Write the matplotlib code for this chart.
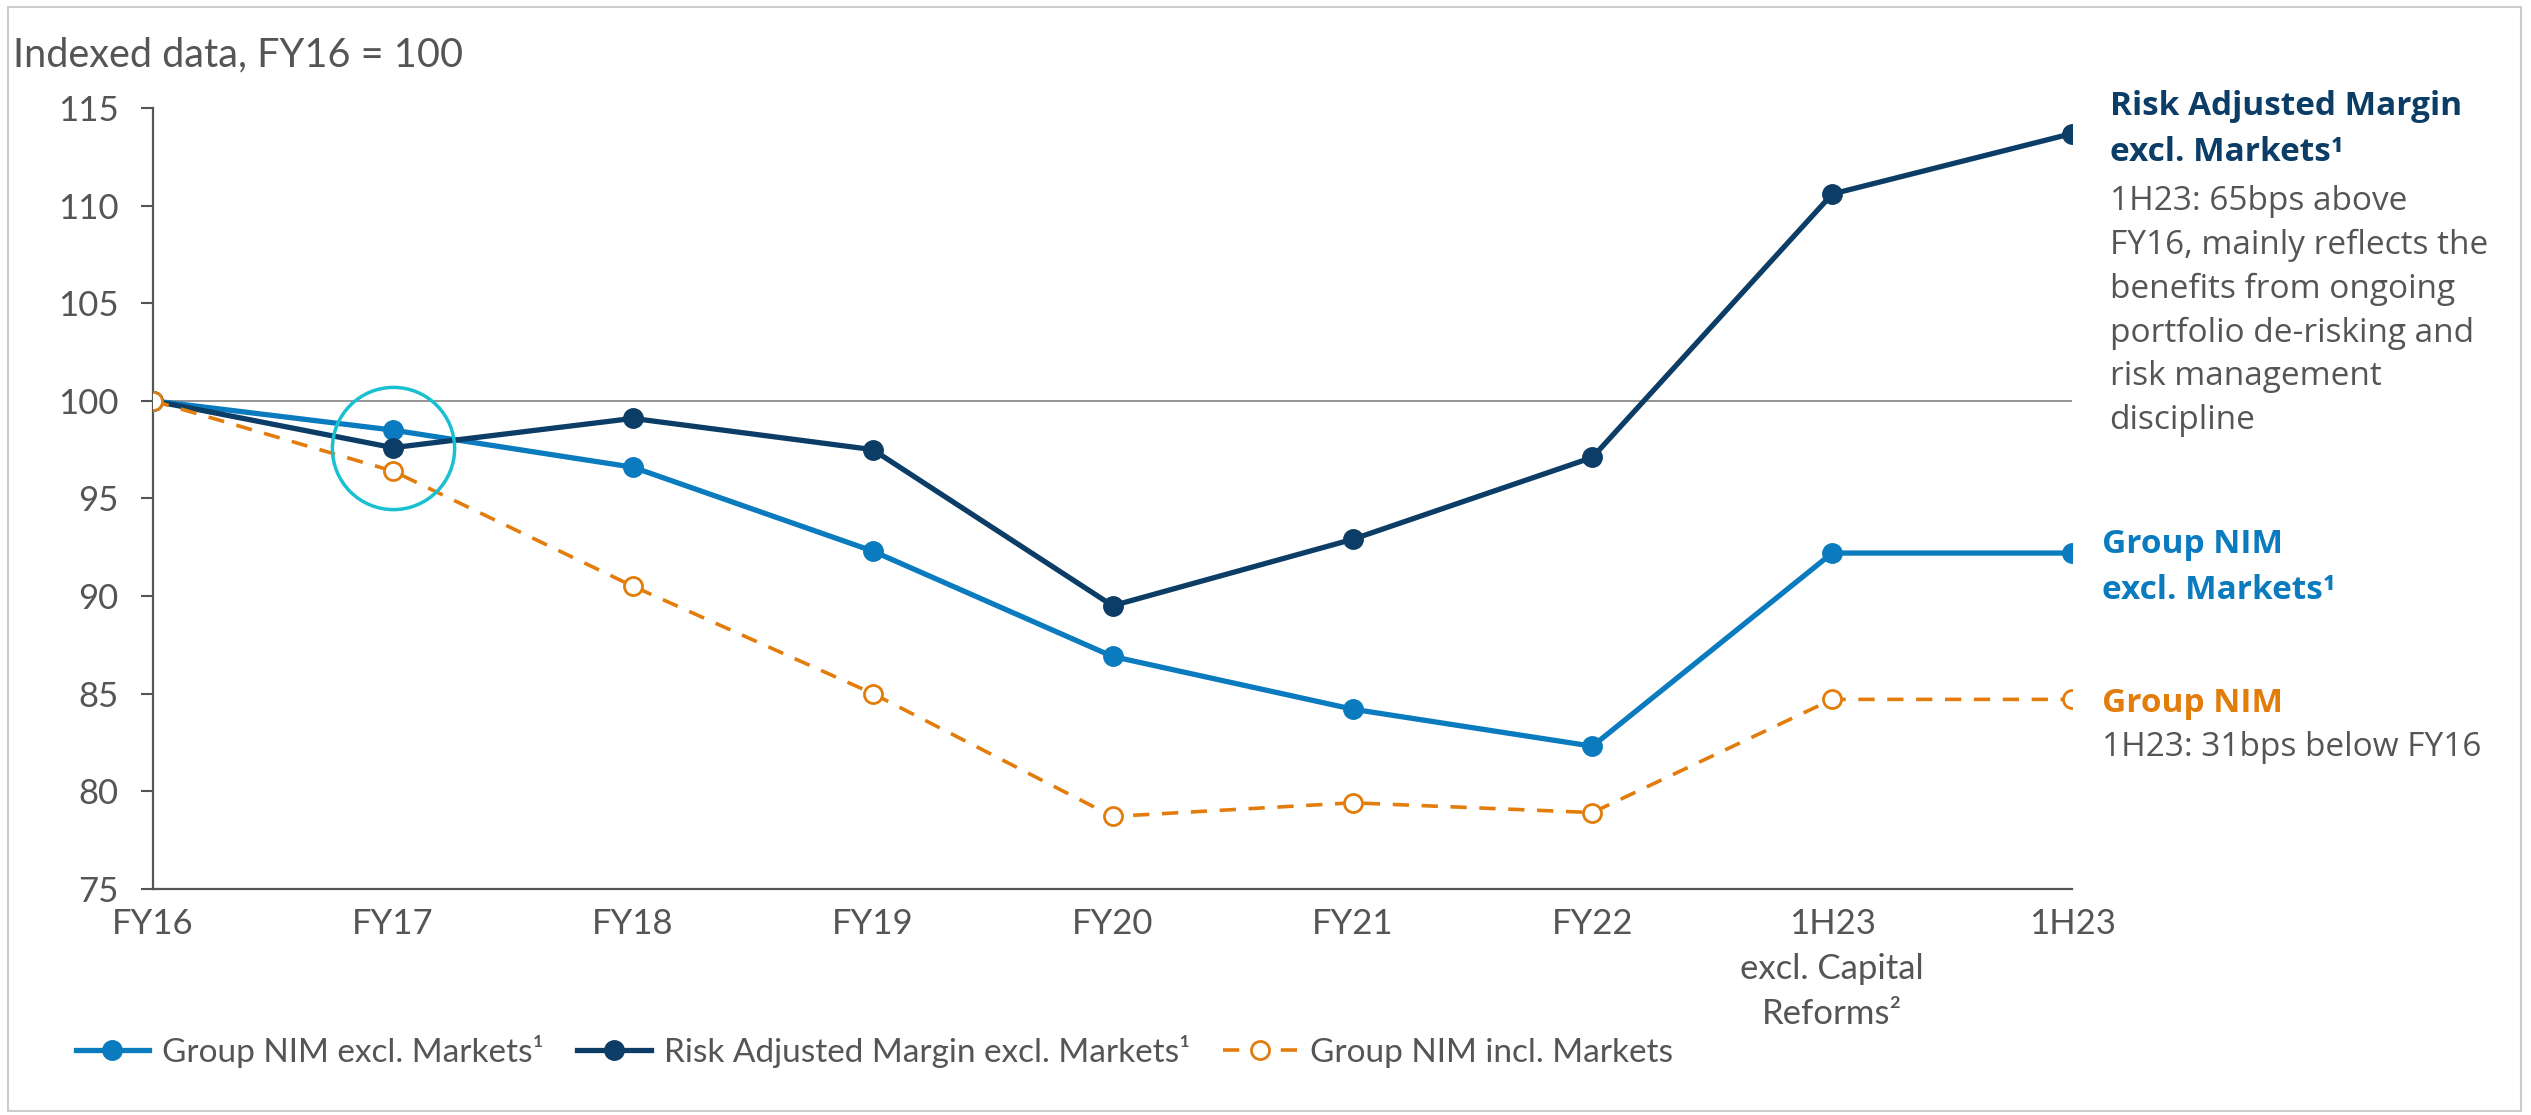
import matplotlib.pyplot as plt
from matplotlib.patches import Rectangle

# data (index, FY16 = 100)
periods = ["FY16", "FY17", "FY18", "FY19", "FY20", "FY21", "FY22",
           "1H23\nexcl. Capital\nReforms²", "1H23"]
nim_excl = [100, 98.5, 96.6, 92.3, 86.9, 84.2, 82.3, 92.2, 92.2]
ram_excl = [100, 97.6, 99.1, 97.5, 89.5, 92.9, 97.1, 110.6, 113.7]
nim_incl = [100, 96.4, 90.5, 85.0, 78.7, 79.4, 78.9, 84.7, 84.7]
yticks = [75, 80, 85, 90, 95, 100, 105, 110, 115]

BLUE = "#0A7BBE"
NAVY = "#0B3D66"
ORANGE = "#E27D0C"
GREY = "#555555"

axis_font = ["Lato", "DejaVu Sans"]
note_font = ["Open Sans", "DejaVu Sans"]

fig = plt.figure(figsize=(25.31, 11.15), dpi=100)
ax = fig.add_axes([0.0605, 0.203, 0.7582, 0.700])

x = list(range(len(periods)))
ax.axhline(100, color="#8c8c8c", lw=1.3, zorder=1)

ax.plot(x, nim_excl, color=BLUE, lw=3.8, marker="o", ms=14, zorder=3,
        label="Group NIM excl. Markets¹")
ax.plot(x, ram_excl, color=NAVY, lw=3.8, marker="o", ms=14, zorder=4,
        label="Risk Adjusted Margin excl. Markets¹")
ax.plot(x, nim_incl, color=ORANGE, lw=2.6, ls=(0, (4.5, 3.5)), marker="o", ms=13,
        mfc="white", mec=ORANGE, mew=2, zorder=5, label="Group NIM incl. Markets")

# highlight circle round FY17
ax.plot([1], [ram_excl[1]], marker="o", ms=88, mfc="none", mec="#19C0D0",
        mew=2.5, zorder=6)

ax.set_xlim(0, len(periods) - 1)
ax.set_ylim(75, 115)
ax.set_yticks(yticks)
ax.set_xticks(x)
ax.set_xticklabels(periods, family=axis_font, fontsize=25, color=GREY,
                   linespacing=1.5)
ax.set_yticklabels([str(v) for v in yticks], family=axis_font, fontsize=25,
                   color=GREY)
ax.tick_params(axis="y", length=9, width=1.5, color=GREY, pad=16)
ax.tick_params(axis="x", length=0, pad=14)
for s in ["top", "right"]:
    ax.spines[s].set_visible(False)
for s in ["left", "bottom"]:
    ax.spines[s].set_color(GREY)
    ax.spines[s].set_linewidth(1.6)

fig.text(0.005, 0.951, "Indexed data, FY16 = 100", family=axis_font,
         fontsize=28.5, color=GREY, va="center")

# notes on the right
fig.text(0.8335, 0.884, "Risk Adjusted Margin\nexcl. Markets¹", family=note_font,
         fontsize=24, fontweight="bold", color=NAVY, va="center",
         linespacing=1.5)
fig.text(0.8335, 0.834, "1H23: 65bps above\nFY16, mainly reflects the\n"
         "benefits from ongoing\nportfolio de-risking and\nrisk management\n"
         "discipline", family=note_font, fontsize=24, color=GREY, va="top",
         linespacing=1.42)
fig.text(0.8305, 0.491, "Group NIM\nexcl. Markets¹", family=note_font,
         fontsize=24, fontweight="bold", color=BLUE, va="center",
         linespacing=1.5)
fig.text(0.8305, 0.369, "Group NIM", family=note_font, fontsize=24,
         fontweight="bold", color=ORANGE, va="center")
fig.text(0.8305, 0.330, "1H23: 31bps below FY16", family=note_font,
         fontsize=24, color=GREY, va="center")

leg = fig.legend(loc="center left", bbox_to_anchor=(0.018, 0.057), ncol=3,
                 frameon=False, handlelength=2.2, handletextpad=0.4,
                 columnspacing=1.0, prop={"family": axis_font, "size": 24})
for t in leg.get_texts():
    t.set_color(GREY)

fig.patches.append(Rectangle((0.003, 0.004), 0.993, 0.99, transform=fig.transFigure,
                             fill=False, ec="#cccccc", lw=1.5))

fig.savefig("out.png", dpi=100)
